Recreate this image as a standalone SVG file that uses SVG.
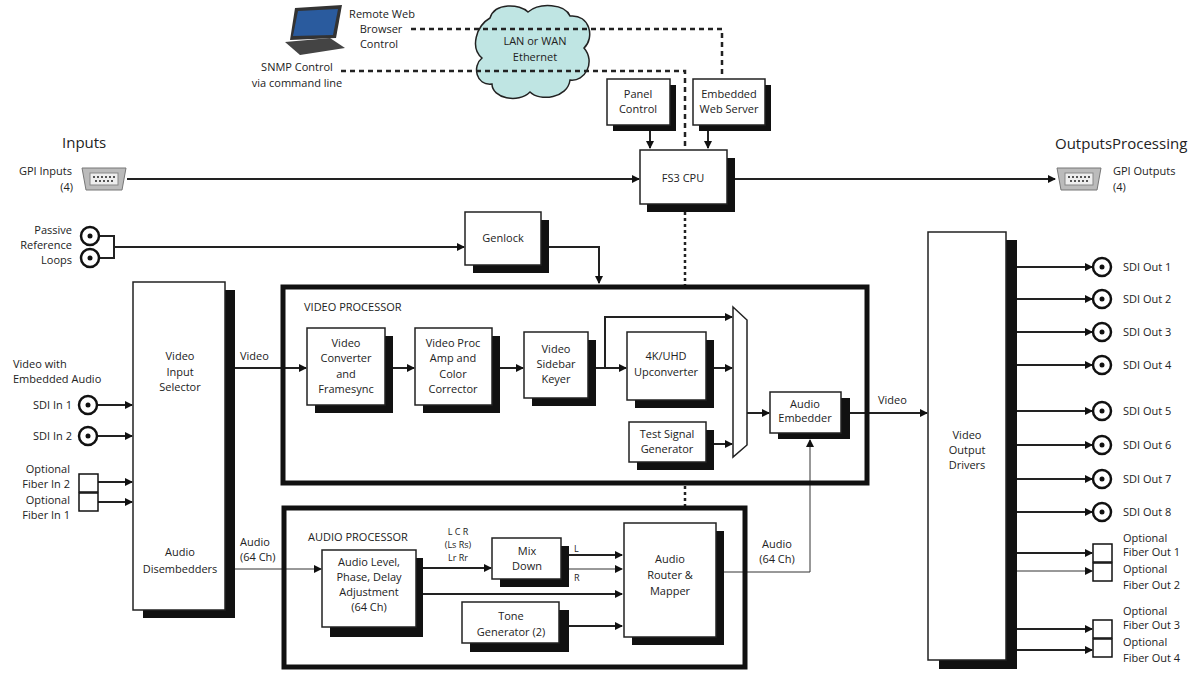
<svg xmlns="http://www.w3.org/2000/svg" width="1195" height="678" viewBox="0 0 1195 678">
<style>
text{font-family:"Open Sans","Liberation Sans",sans-serif;font-size:11px;fill:#222}
.c{text-anchor:middle}.r{text-anchor:end}
.big{font-size:15px}
.box{fill:#fff;stroke:#222;stroke-width:1.5}
.sh{fill:#111}
.frame{fill:none;stroke:#111;stroke-width:5}
.ln{fill:none;stroke:#222;stroke-width:2}
.thin{fill:none;stroke:#333;stroke-width:1}
.dash{fill:none;stroke:#222;stroke-width:2.5;stroke-dasharray:5 4}
.dot{fill:none;stroke:#222;stroke-width:2.5;stroke-dasharray:3 3}
.bnc{fill:#fff;stroke:#111;stroke-width:2.5}
.fib{fill:#fff;stroke:#111;stroke-width:1.5}
</style>
<defs>
<marker id="a" markerWidth="8" markerHeight="8" refX="7" refY="4" orient="auto" markerUnits="userSpaceOnUse"><path d="M0,0 L8,4 L0,8 z" fill="#111"/></marker>
<g id="db"><path d="M0,0 H44 L40,22 H4 z" fill="#bbb" stroke="#777"/><rect x="8" y="5" width="28" height="12" fill="#eee" stroke="#888"/><path d="M11,9 H33 M13,13 H31" stroke="#555" stroke-width="2" stroke-dasharray="2 2"/></g>
<g id="coax"><circle r="9" class="bnc"/><circle r="2.5" fill="#111"/></g>
</defs>

<g id="laptop"><polygon points="295,8 342,5 336,38 290,40" fill="#333"/><polygon points="298,11 338,9 333,35 293,36" fill="#2a5b9e"/><polygon points="285,42 330,38 345,48 300,55" fill="#444"/></g>
<g id="remote-labels">
<text class="c" x="382" y="18">Remote Web</text><text class="c" x="381" y="33">Browser</text><text class="c" x="379" y="48">Control</text>
<text class="c" x="297" y="71">SNMP Control</text><text class="c" x="297" y="87">via command line</text>
</g>
<g id="cloud"><path d="M490,18 C495,2 520,4 528,12 C540,2 565,4 570,16 C590,14 595,38 584,48 C596,62 585,82 570,80 C568,98 540,102 530,92 C518,104 492,98 492,84 C476,86 472,66 482,58 C470,48 476,26 490,18 z" fill="#bfe5e3" stroke="#222" stroke-width="1.5"/>
<text class="c" x="535" y="45">LAN or WAN</text><text class="c" x="535" y="61">Ethernet</text></g>

<g id="connectors">
<path class="dash" d="M411,29 H722 V78"/>
<path class="dash" d="M341,71 H685 V148"/>
<path class="dot" d="M685,212 V286"/>
<path class="dot" d="M685,486 V506"/>
<path class="ln" d="M650,125 V148" marker-end="url(#a)"/>
<path class="ln" d="M708,125 V148" marker-end="url(#a)"/>
<path class="ln" d="M127,179 H639" marker-end="url(#a)"/>
<path class="ln" d="M727,179 H1055" marker-end="url(#a)"/>
<path class="ln" d="M99,236 H114 V258 H99 M114,247 H464" marker-end="url(#a)"/>
<path class="ln" d="M541,247 H599 V283" marker-end="url(#a)"/>
<path class="ln" d="M97,405 H132" marker-end="url(#a)"/>
<path class="ln" d="M97,436 H132" marker-end="url(#a)"/>
<path class="ln" d="M98,482 H132" marker-end="url(#a)"/>
<path class="ln" d="M98,502 H132" marker-end="url(#a)"/>
<path class="ln" d="M235,368 H306" marker-end="url(#a)"/>
<path class="ln" d="M393,368 H414" marker-end="url(#a)"/>
<path class="ln" d="M500,368 H523" marker-end="url(#a)"/>
<path class="ln" d="M596,368 H626" marker-end="url(#a)"/>
<path class="ln" d="M605,368 V317 H732" marker-end="url(#a)"/>
<path class="ln" d="M714,368 H732" marker-end="url(#a)"/>
<path class="ln" d="M714,444 H732" marker-end="url(#a)"/>
<path class="ln" d="M747,413 H769" marker-end="url(#a)"/>
<path class="ln" d="M850,413 H927" marker-end="url(#a)"/>
<path class="thin" d="M235,569 H321" marker-end="url(#a)"/>
<path class="ln" d="M423,568 H491" marker-end="url(#a)"/>
<path class="ln" d="M569,555 H622" marker-end="url(#a)"/>
<path class="thin" d="M569,569 H622" marker-end="url(#a)"/>
<path class="ln" d="M423,594 H622" marker-end="url(#a)"/>
<path class="ln" d="M569,626 H622" marker-end="url(#a)"/>
<path class="thin" d="M724,572 H810 V440" marker-end="url(#a)"/>
<path class="ln" d="M1017,267 H1092" marker-end="url(#a)"/>
<path class="ln" d="M1017,299 H1092" marker-end="url(#a)"/>
<path class="ln" d="M1017,332 H1092" marker-end="url(#a)"/>
<path class="ln" d="M1017,365 H1092" marker-end="url(#a)"/>
<path class="ln" d="M1017,411 H1092" marker-end="url(#a)"/>
<path class="ln" d="M1017,445 H1092" marker-end="url(#a)"/>
<path class="ln" d="M1017,479 H1092" marker-end="url(#a)"/>
<path class="ln" d="M1017,512 H1092" marker-end="url(#a)"/>
<path class="ln" d="M1017,553 H1092" marker-end="url(#a)"/>
<path class="thin" d="M1017,571 H1092" marker-end="url(#a)"/>
<path class="ln" d="M1017,629 H1092" marker-end="url(#a)"/>
<path class="ln" d="M1017,650 H1092" marker-end="url(#a)"/>
</g>

<g id="panel-control"><rect class="sh" x="613" y="85" width="63" height="46"/><rect class="box" x="607" y="79" width="63" height="46"/><text class="c" x="638" y="98">Panel</text><text class="c" x="638" y="113">Control</text></g>
<g id="web-server"><rect class="sh" x="699" y="85" width="72" height="46"/><rect class="box" x="693" y="79" width="72" height="46"/><text class="c" x="729" y="98">Embedded</text><text class="c" x="729" y="113">Web Server</text></g>
<g id="fs3-cpu"><rect class="sh" x="647" y="158" width="88" height="54"/><rect class="box" x="640" y="150" width="87" height="54"/><text class="c" x="683" y="182">FS3 CPU</text></g>

<g id="inputs-gpi"><text class="big" x="62" y="148">Inputs</text><text class="r" x="72" y="175">GPI Inputs</text><text class="r" x="73" y="191">(4)</text><use href="#db" x="82" y="168"/></g>
<g id="outputs-gpi"><text class="big" x="1055" y="149">OutputsProcessing</text><use href="#db" x="1057" y="168"/><text x="1113" y="175">GPI Outputs</text><text x="1113" y="191">(4)</text></g>

<g id="ref-loops"><text class="r" x="72" y="234">Passive</text><text class="r" x="72" y="249">Reference</text><text class="r" x="72" y="264">Loops</text><use href="#coax" x="90" y="236"/><use href="#coax" x="90" y="258"/></g>
<g id="genlock"><rect class="sh" x="473" y="220" width="76" height="53"/><rect class="box" x="465" y="212" width="76" height="53"/><text class="c" x="503" y="242">Genlock</text></g>

<g id="sdi-inputs">
<text x="13" y="368">Video with</text><text x="13" y="383">Embedded Audio</text>
<text class="r" x="72" y="409">SDI In 1</text><use href="#coax" x="88" y="405"/>
<text class="r" x="72" y="440">SDI In 2</text><use href="#coax" x="88" y="436"/>
<text class="r" x="70" y="473">Optional</text><text class="r" x="70" y="488">Fiber In 2</text>
<text class="r" x="70" y="504">Optional</text><text class="r" x="70" y="519">Fiber In 1</text>
<rect class="fib" x="79" y="474" width="19" height="18"/><rect class="fib" x="79" y="493" width="19" height="18"/>
</g>

<g id="input-selector"><rect class="sh" x="143" y="290" width="92" height="328"/><rect class="box" x="133" y="282" width="92" height="328"/>
<text class="c" x="180" y="360">Video</text><text class="c" x="180" y="376">Input</text><text class="c" x="180" y="391">Selector</text>
<text class="c" x="180" y="556">Audio</text><text class="c" x="180" y="573">Disembedders</text>
<text x="240" y="360">Video</text><text x="240" y="546">Audio</text><text x="240" y="561">(64 Ch)</text></g>

<g id="video-processor"><rect class="frame" x="283" y="287" width="584" height="196"/><text x="304" y="311">VIDEO PROCESSOR</text></g>
<g id="video-converter"><rect class="sh" x="315" y="336" width="78" height="77"/><rect class="box" x="307" y="328" width="78" height="77"/><text class="c" x="346" y="347">Video</text><text class="c" x="346" y="362">Converter</text><text class="c" x="346" y="378">and</text><text class="c" x="346" y="393">Framesync</text></g>
<g id="proc-amp"><rect class="sh" x="423" y="336" width="77" height="77"/><rect class="box" x="415" y="328" width="77" height="77"/><text class="c" x="453" y="347">Video Proc</text><text class="c" x="453" y="362">Amp and</text><text class="c" x="453" y="378">Color</text><text class="c" x="453" y="393">Corrector</text></g>
<g id="sidebar-keyer"><rect class="sh" x="532" y="340" width="64" height="66"/><rect class="box" x="524" y="332" width="64" height="66"/><text class="c" x="556" y="353">Video</text><text class="c" x="556" y="368">Sidebar</text><text class="c" x="556" y="383">Keyer</text></g>
<g id="upconverter"><rect class="sh" x="635" y="340" width="79" height="68"/><rect class="box" x="627" y="332" width="79" height="68"/><text class="c" x="666" y="360">4K/UHD</text><text class="c" x="666" y="376">Upconverter</text></g>
<g id="test-signal"><rect class="sh" x="637" y="430" width="77" height="40"/><rect class="box" x="629" y="422" width="77" height="40"/><text class="c" x="667" y="438">Test Signal</text><text class="c" x="667" y="453">Generator</text></g>
<g id="mux"><polygon points="733,307 747,320 747,445 733,457" fill="#fff" stroke="#222" stroke-width="1.5"/></g>
<g id="audio-embedder"><rect class="sh" x="778" y="398" width="72" height="41"/><rect class="box" x="770" y="392" width="71" height="41"/><text class="c" x="805" y="408">Audio</text><text class="c" x="805" y="422">Embedder</text><text x="878" y="404">Video</text></g>

<g id="audio-processor"><rect class="frame" x="284" y="508" width="461" height="159"/><text x="308" y="541">AUDIO PROCESSOR</text>
<text class="c" x="458" y="535" style="font-size:9px">L C R</text><text class="c" x="458" y="548" style="font-size:9px">(Ls Rs)</text><text class="c" x="458" y="561" style="font-size:9px">Lr Rr</text>
<text x="574" y="552" style="font-size:9px">L</text><text x="574" y="581" style="font-size:9px">R</text>
<text class="c" x="777" y="548">Audio</text><text class="c" x="777" y="563">(64 Ch)</text></g>
<g id="audio-level"><rect class="sh" x="330" y="558" width="93" height="79"/><rect class="box" x="322" y="550" width="94" height="77"/><text class="c" x="369" y="566">Audio Level,</text><text class="c" x="369" y="581">Phase, Delay</text><text class="c" x="369" y="596">Adjustment</text><text class="c" x="369" y="611">(64 Ch)</text></g>
<g id="mix-down"><rect class="sh" x="500" y="546" width="69" height="41"/><rect class="box" x="492" y="538" width="69" height="41"/><text class="c" x="527" y="555">Mix</text><text class="c" x="527" y="570">Down</text></g>
<g id="tone-generator"><rect class="sh" x="470" y="610" width="99" height="42"/><rect class="box" x="462" y="602" width="97" height="41"/><text class="c" x="511" y="620">Tone</text><text class="c" x="511" y="636">Generator (2)</text></g>
<g id="audio-router"><rect class="sh" x="632" y="531" width="92" height="114"/><rect class="box" x="624" y="523" width="92" height="114"/><text class="c" x="670" y="563">Audio</text><text class="c" x="670" y="579">Router &amp;</text><text class="c" x="670" y="595">Mapper</text></g>

<g id="output-drivers"><rect class="sh" x="939" y="240" width="78" height="429"/><rect class="box" x="928" y="232" width="78" height="428"/><text class="c" x="967" y="439">Video</text><text class="c" x="967" y="454">Output</text><text class="c" x="967" y="469">Drivers</text></g>
<g id="sdi-outputs">
<use href="#coax" x="1102" y="267"/><text x="1123" y="271">SDI Out 1</text>
<use href="#coax" x="1102" y="299"/><text x="1123" y="303">SDI Out 2</text>
<use href="#coax" x="1102" y="332"/><text x="1123" y="336">SDI Out 3</text>
<use href="#coax" x="1102" y="365"/><text x="1123" y="369">SDI Out 4</text>
<use href="#coax" x="1102" y="411"/><text x="1123" y="415">SDI Out 5</text>
<use href="#coax" x="1102" y="445"/><text x="1123" y="449">SDI Out 6</text>
<use href="#coax" x="1102" y="479"/><text x="1123" y="483">SDI Out 7</text>
<use href="#coax" x="1102" y="512"/><text x="1123" y="516">SDI Out 8</text>
</g>
<g id="fiber-outputs">
<rect class="fib" x="1093" y="544" width="19" height="18"/><rect class="fib" x="1093" y="563" width="19" height="18"/>
<text x="1123" y="542">Optional</text><text x="1123" y="556">Fiber Out 1</text><text x="1123" y="573">Optional</text><text x="1123" y="589">Fiber Out 2</text>
<rect class="fib" x="1093" y="620" width="19" height="18"/><rect class="fib" x="1093" y="639" width="19" height="18"/>
<text x="1123" y="615">Optional</text><text x="1123" y="629">Fiber Out 3</text><text x="1123" y="646">Optional</text><text x="1123" y="662">Fiber Out 4</text>
</g>
</svg>
